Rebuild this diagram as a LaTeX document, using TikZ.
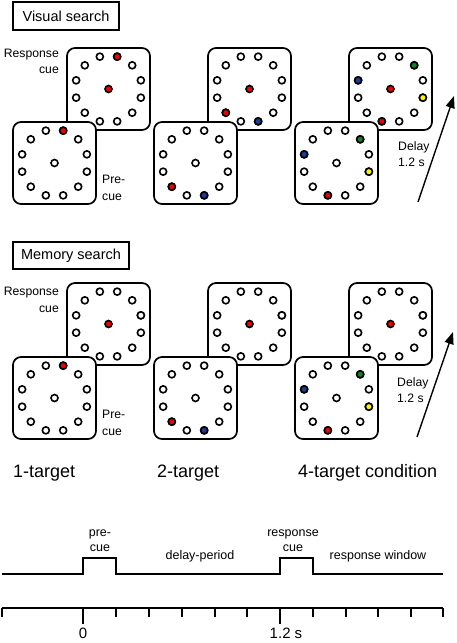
\documentclass[tikz,border=0pt]{standalone}
\usepackage{fontspec}
\setmainfont{Liberation Sans}
\usetikzlibrary{calc,arrows.meta}
\definecolor{dotred}{RGB}{240,0,0}
\definecolor{dotblue}{RGB}{30,60,150}
\definecolor{dotgreen}{RGB}{20,130,40}
\definecolor{dotyellow}{RGB}{255,245,0}
\tikzset{
  panelbox/.style={draw, line width=1.7pt, rounded corners=8pt, fill=white,
    minimum width=83pt, minimum height=82pt, inner sep=0pt},
  dot/.style={draw, line width=1.6pt, fill=white},
  titlebox/.style={draw, line width=1.4pt, minimum height=28pt, inner sep=0pt,
    font=\fontsize{14.5}{17}\selectfont},
  sidelabel/.style={inner sep=0pt, font=\fontsize{12.2}{16.5}\selectfont},
  condlabel/.style={inner sep=0pt, anchor=west, font=\fontsize{18}{21}\selectfont},
  timelabel/.style={inner sep=0pt, font=\fontsize{12.5}{15}\selectfont},
  axislabel/.style={inner sep=0pt, font=\fontsize{15}{18}\selectfont},
  delayarrow/.style={line width=1.4pt, -{Triangle[length=12pt,width=9pt]}},
  signal/.style={line width=1.4pt},
}
\newcommand\stimpanel[5]{%
  \node[panelbox] (#1) at (#2,#3) {};
  \foreach \a in {15,45,...,345} \draw[dot] ($(#1.center)+(-\a:33.5)$) circle (3.5);
  \foreach \a/\c in {#5} \draw[dot,fill=\c] ($(#1.center)+(-\a:33.5)$) circle (3.5);
  \draw[dot,fill=#4] (#1.center) circle (3.5);
}
\begin{document}
\begin{tikzpicture}[x=1pt,y=-1pt]
\useasboundingbox (0,0) rectangle (456,643);

% ---------------- Visual search ----------------
\node[titlebox, minimum width=106pt] (vtitle) at (66,16) {Visual search};

\stimpanel{vb1}{108.5}{89}{dotred}{75/dotred}
\stimpanel{vf1}{54.5}{163}{white}{75/dotred}
\stimpanel{vb2}{249.5}{89}{dotred}{225/dotred,285/dotblue}
\stimpanel{vf2}{195.5}{163}{white}{225/dotred,285/dotblue}
\stimpanel{vb3}{390.5}{89}{dotred}{45/dotgreen,165/dotblue,345/dotyellow,255/dotred}
\stimpanel{vf3}{336.5}{163}{white}{45/dotgreen,165/dotblue,345/dotyellow,255/dotred}

\node[sidelabel, align=right, anchor=east] (vresp) at (59,61.5) {Response\\cue};
\node[sidelabel, align=left, anchor=west] (vpre) at (102,188) {Pre-\\cue};
\node[sidelabel, align=left, anchor=west] (vdelay) at (398,154) {Delay\\1.2 s};

\coordinate (va0) at (418,202);
\coordinate (va1) at (454,96);
\draw[delayarrow] (va0) -- (va1);

% ---------------- Memory search ----------------
\node[titlebox, minimum width=116pt, minimum height=27pt] (mtitle) at (71,255.5) {Memory search};

\stimpanel{mb1}{108.5}{324}{dotred}{15/white}
\stimpanel{mf1}{54.5}{398}{white}{75/dotred}
\stimpanel{mb2}{249.5}{324}{dotred}{15/white}
\stimpanel{mf2}{195.5}{398}{white}{225/dotred,285/dotblue}
\stimpanel{mb3}{390.5}{324}{dotred}{15/white}
\stimpanel{mf3}{336.5}{398}{white}{45/dotgreen,165/dotblue,345/dotyellow,255/dotred}

\node[sidelabel, align=right, anchor=east] (mresp) at (59,300) {Response\\cue};
\node[sidelabel, align=left, anchor=west] (mpre) at (102,423) {Pre-\\cue};
\node[sidelabel, align=left, anchor=west] (mdelay) at (397,390) {Delay\\1.2 s};

\coordinate (ma0) at (417,437);
\coordinate (ma1) at (453,332);
\draw[delayarrow] (ma0) -- (ma1);

% ---------------- Condition labels ----------------
\node[condlabel] (c1) at (13,473) {1-target};
\node[condlabel] (c2) at (157,473) {2-target};
\node[condlabel] (c4) at (298,473) {4-target condition};

% ---------------- Timeline ----------------
\draw[signal] (2,574) -- (83,574) -- (83,558) -- (116,558) -- (116,574)
  -- (280,574) -- (280,558) -- (313,558) -- (313,574) -- (443,574);

\node[timelabel, align=center] (tpre) at (100,540.5) {pre-\\cue};
\node[timelabel, align=center] (tresp) at (293,540.5) {response\\cue};
\node[timelabel] (tdelay) at (200,556) {delay-period};
\node[timelabel] (twin) at (378,556) {response window};

\draw[signal] (2,608) -- (443,608);
\foreach \x in {2,116,149,182,215,247,313,346,378,411,443}
  \draw[signal] (\x,608) -- (\x,617);
\foreach \x in {83,280}
  \draw[signal] (\x,608) -- (\x,624);

\node[axislabel] (t0) at (83,633) {0};
\node[axislabel] (t12) at (286,633) {1.2 s};
\end{tikzpicture}
\end{document}
